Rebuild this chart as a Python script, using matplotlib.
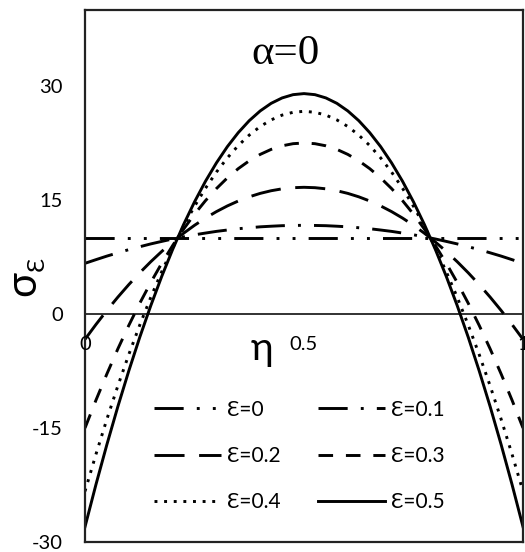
import matplotlib
matplotlib.use("Agg")
import matplotlib.pyplot as plt

plt.rcParams['font.family'] = ['Lato', 'Noto Sans', 'DejaVu Sans']
plt.rcParams['axes.unicode_minus'] = False

# stress profiles sigma_eps(eta) for alpha = 0, one curve per eps
eta = [0.0, 0.025, 0.05, 0.075, 0.1, 0.125, 0.15, 0.175, 0.2, 0.225,
       0.25, 0.275, 0.3, 0.325, 0.35, 0.375, 0.4, 0.425, 0.45, 0.475,
       0.5, 0.525, 0.55, 0.575, 0.6, 0.625, 0.65, 0.675, 0.7, 0.725,
       0.75, 0.775, 0.8, 0.825, 0.85, 0.875, 0.9, 0.925, 0.95, 0.975, 1.0]

sig_e00 = [10.0] * 41
sig_e01 = [6.67, 7.15, 7.62, 8.05, 8.47, 8.85, 9.22, 9.55, 9.87, 10.15,
           10.42, 10.65, 10.87, 11.05, 11.22, 11.35, 11.47, 11.55, 11.62, 11.65,
           11.67, 11.65, 11.62, 11.55, 11.47, 11.35, 11.22, 11.05, 10.87, 10.65,
           10.42, 10.15, 9.87, 9.55, 9.22, 8.85, 8.47, 8.05, 7.62, 7.15, 6.67]
sig_e02 = [-3.33, -1.38, 0.47, 2.22, 3.87, 5.42, 6.87, 8.22, 9.47, 10.62,
           11.67, 12.62, 13.47, 14.22, 14.87, 15.42, 15.87, 16.22, 16.47, 16.62,
           16.67, 16.62, 16.47, 16.22, 15.87, 15.42, 14.87, 14.22, 13.47, 12.62,
           11.67, 10.62, 9.47, 8.22, 6.87, 5.42, 3.87, 2.22, 0.47, -1.38, -3.33]
sig_e03 = [-15.0, -11.34, -7.88, -4.59, -1.5, 1.41, 4.13, 6.66, 9.0, 11.16,
           13.13, 14.91, 16.5, 17.91, 19.13, 20.16, 21.0, 21.66, 22.13, 22.41,
           22.5, 22.41, 22.13, 21.66, 21.0, 20.16, 19.13, 17.91, 16.5, 14.91,
           13.13, 11.16, 9.0, 6.66, 4.13, 1.41, -1.5, -4.59, -7.88, -11.34, -15.0]
sig_e04 = [-23.33, -18.46, -13.83, -9.46, -5.33, -1.46, 2.17, 5.54, 8.67, 11.54,
           14.17, 16.54, 18.67, 20.54, 22.17, 23.54, 24.67, 25.54, 26.17, 26.54,
           26.67, 26.54, 26.17, 25.54, 24.67, 23.54, 22.17, 20.54, 18.67, 16.54,
           14.17, 11.54, 8.67, 5.54, 2.17, -1.46, -5.33, -9.46, -13.83, -18.46, -23.33]
sig_e05 = [-28.0, -22.44, -17.17, -12.18, -7.48, -3.06, 1.07, 4.92, 8.48, 11.76,
           14.75, 17.46, 19.88, 22.02, 23.87, 25.44, 26.72, 27.72, 28.43, 28.86,
           29.0, 28.86, 28.43, 27.72, 26.72, 25.44, 23.87, 22.02, 19.88, 17.46,
           14.75, 11.76, 8.48, 4.92, 1.07, -3.06, -7.48, -12.18, -17.17, -22.44, -28.0]

labels = ['Ɛ=0', 'Ɛ=0.1', 'Ɛ=0.2', 'Ɛ=0.3', 'Ɛ=0.4', 'Ɛ=0.5']
series = [sig_e00, sig_e01, sig_e02, sig_e03, sig_e04, sig_e05]
styles = [
    (0, (10, 4.5, 1, 4.5, 1, 4.5)),   # long dash dot dot
    (0, (10, 4.5, 1, 4.5)),           # long dash dot
    (0, (10.3, 5)),                   # long dash
    (0, (5, 4.4)),                    # dash
    (0, (1, 2.3)),                    # dots
    '-',
]

yticks = [-30, -15, 0, 15, 30]
xticks = [0, 0.5, 1]
xticklabels = ['0', '0.5', '1']

fig = plt.figure(figsize=(5.25, 5.52), dpi=100)
ax = fig.add_axes([85 / 525, 1 - 542 / 552, 438 / 525, 532 / 552])

lines = []
for y, lab, ls in zip(series, labels, styles):
    ln, = ax.plot(eta, y, color='black', lw=2.1, linestyle=ls,
                  dash_capstyle='butt', label=lab)
    lines.append(ln)

ax.set_xlim(0, 1)
ax.set_ylim(-30, 40)

for sp in ax.spines.values():
    sp.set_linewidth(1.6)
    sp.set_color('#222222')

ax.set_xticks([])
ax.set_yticks(yticks)
ax.tick_params(axis='y', length=0, pad=16, labelsize=14.5)

# x axis drawn through sigma = 0, labels hang below it
ax.axhline(0, color='#222222', lw=1.3, zorder=1)
for xv, txt in zip(xticks, xticklabels):
    ax.annotate(txt, (xv, 0), xytext=(0, -16), textcoords='offset points',
                ha='center', va='top', fontsize=14.5, annotation_clip=False)

ax.text(0.404, -2.3, 'η', fontsize=28, ha='center', va='top')
ax.text(0.457, 34.3, 'α=0', family='Liberation Serif', fontsize=31,
        ha='center', va='center')

fig.text(23 / 525, 1 - 284 / 552, 'σ', fontsize=30, rotation=90,
         ha='center', va='center')
fig.text(37 / 525, 1 - 264 / 552, 'Ɛ', fontsize=17, rotation=90,
         ha='center', va='center')

order = [0, 2, 4, 1, 3, 5]
ax.legend([lines[i] for i in order], [labels[i] for i in order],
          ncol=2, frameon=False, fontsize=15, loc='center',
          bbox_to_anchor=(0.49, 0.162), handlelength=3.2,
          handletextpad=0.3, columnspacing=1.8, labelspacing=1.25)

fig.savefig('out.png', dpi=100)
